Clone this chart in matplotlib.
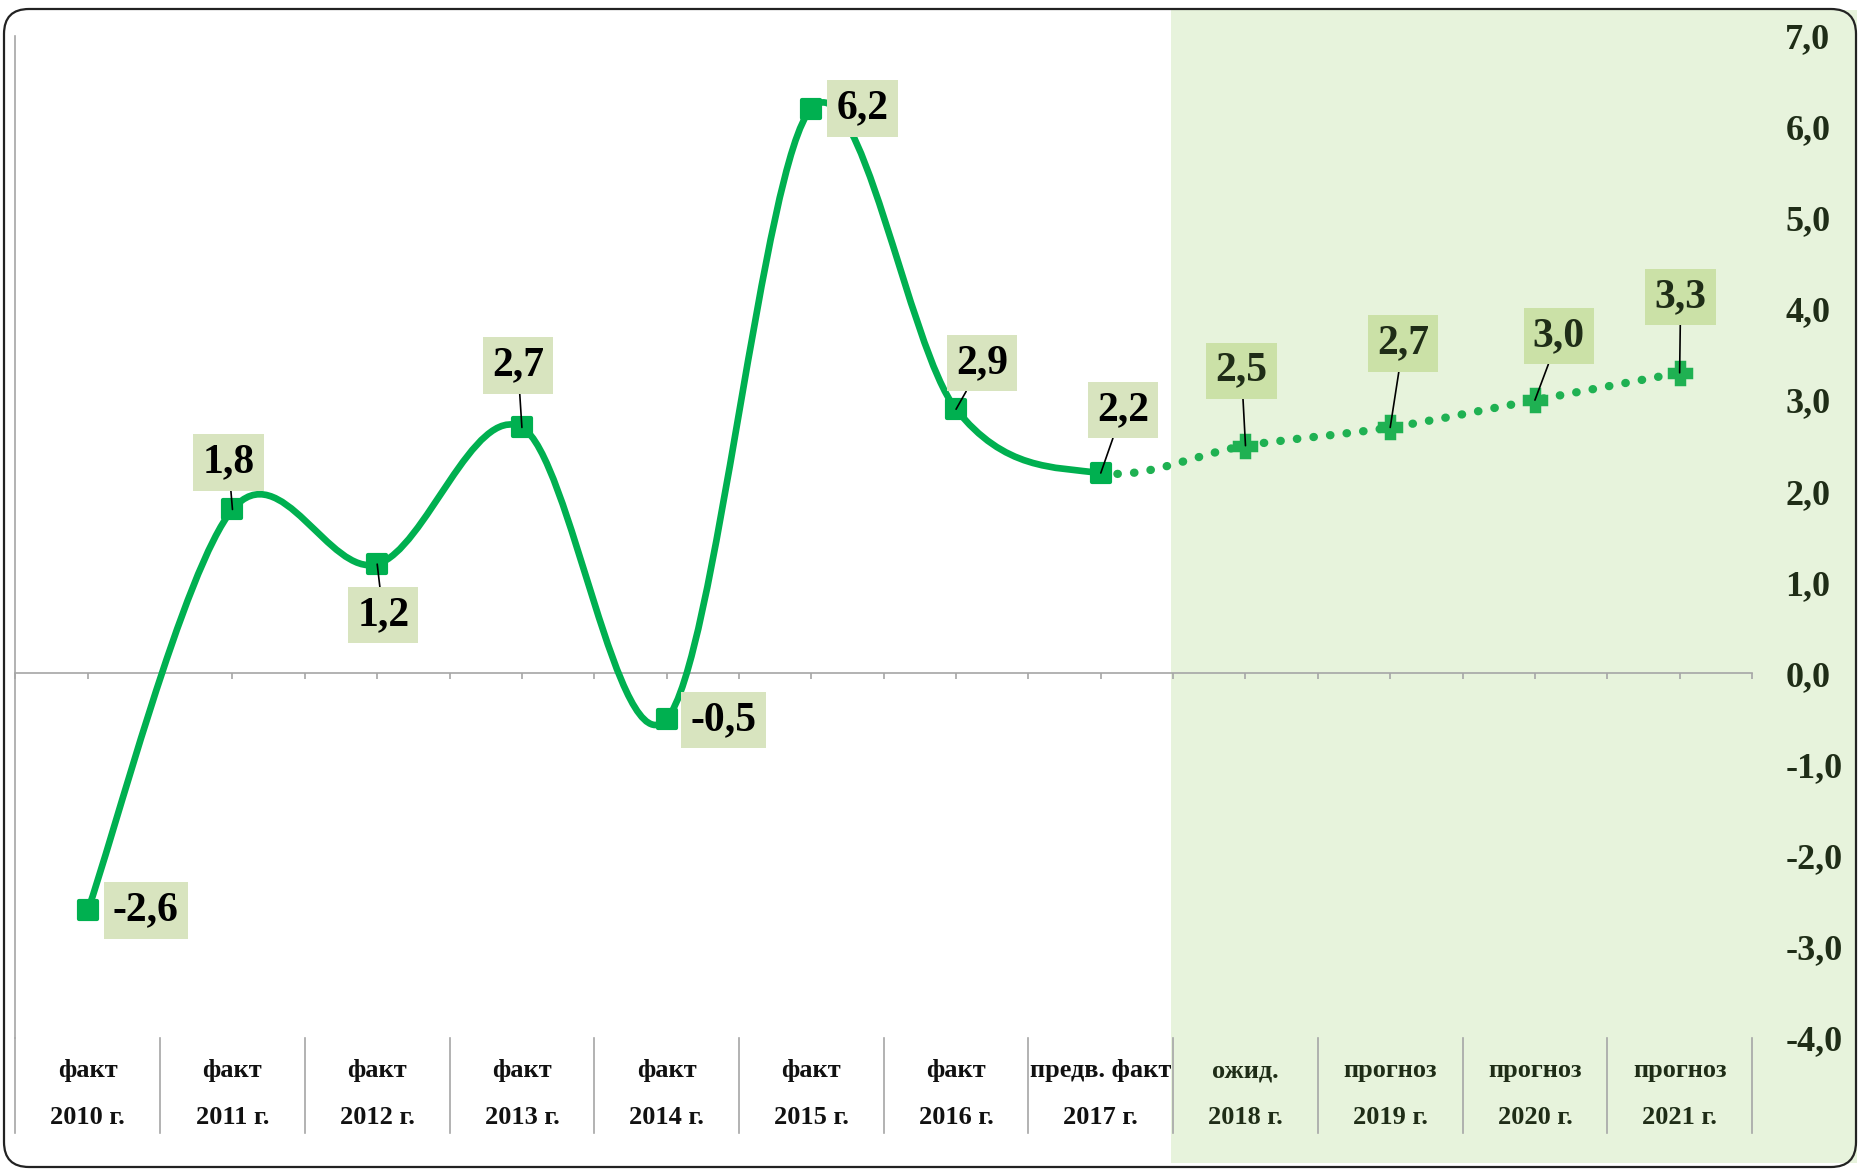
import matplotlib
matplotlib.use('Agg')
import matplotlib.pyplot as plt
from matplotlib.path import Path
from matplotlib.patches import PathPatch, FancyBboxPatch, Rectangle
from matplotlib.markers import MarkerStyle
import matplotlib.transforms as mtransforms
import numpy as np

# data
periods = ['факт', 'факт', 'факт', 'факт', 'факт', 'факт', 'факт',
           'предв. факт', 'ожид.', 'прогноз', 'прогноз', 'прогноз']
years = ['2010 г.', '2011 г.', '2012 г.', '2013 г.', '2014 г.', '2015 г.',
         '2016 г.', '2017 г.', '2018 г.', '2019 г.', '2020 г.', '2021 г.']
values = [-2.6, 1.8, 1.2, 2.7, -0.5, 6.2, 2.9, 2.2, 2.5, 2.7, 3.0, 3.3]
n_fact = 8  # 2010..2017 are fact, the rest forecast
y_ticks = [-4, -3, -2, -1, 0, 1, 2, 3, 4, 5, 6, 7]

# label offsets from the marker, in pixels (dx right, dy up)
label_offsets = [(58, 0), (-4, 47), (6, -51), (-4, 62), (57, -1), (51, 0),
                 (26, 46), (22, 63), (-4, 75), (13, 84), (24, 64), (1, 76)]

GREEN = '#00B050'
GREEN2 = '#1FB152'
SHADE = '#E7F3DC'
SERIF = ['Liberation Serif', 'DejaVu Serif']

plt.rcParams['font.family'] = SERIF
plt.rcParams['font.weight'] = 'bold'

W, H = 1860, 1169
fig = plt.figure(figsize=(W / 100, H / 100), dpi=100)
fig.patch.set_facecolor('white')

# axes placement (pixels)
x_left, x_right = 15.4, 1752
y_top, y_bot = 35.6, 1038
ax = fig.add_axes([x_left / W, (H - y_bot) / H, (x_right - x_left) / W, (y_bot - y_top) / H])
ax.set_facecolor('none')
ax.set_xlim(-0.5, 11.5)
ax.set_ylim(-4, 7)

# shaded forecast area + frame
inch = fig.dpi_scale_trans
shade = Rectangle((11.71, 0.06), 6.86, 11.53, transform=inch, facecolor=SHADE,
                  edgecolor='none', zorder=-1)
fig.patches.append(shade)
frame = FancyBboxPatch((0.04, 0.02), 18.52, 11.58, boxstyle='round,pad=0,rounding_size=0.25',
                       transform=inch, facecolor='none', edgecolor='#222222', lw=1.6, zorder=5)
fig.patches.append(frame)

# spines / ticks
for s in ['top', 'right']:
    ax.spines[s].set_visible(False)
ax.spines['bottom'].set_position(('data', 0))
ax.spines['bottom'].set_color('#A6A6A6')
ax.spines['bottom'].set_linewidth(1.2)
ax.spines['left'].set_color('#A6A6A6')
ax.spines['left'].set_linewidth(1.2)
ax.set_xticks(np.arange(-0.5, 11.6, 0.5))
ax.tick_params(axis='x', length=4, width=1.2, color='#A6A6A6', labelbottom=False, direction='out')

ax.yaxis.set_ticks_position('right')
ax.set_yticks(y_ticks)
ax.set_yticklabels([f'{v:.1f}'.replace('.', ',') for v in y_ticks])
ax.tick_params(axis='y', length=0, pad=24, labelsize=26, labelcolor='#1F2D17')
for lbl in ax.get_yticklabels():
    lbl.set_ha('left')
    lbl.set_fontweight('bold')

# category separators and labels under the plot
trans = mtransforms.blended_transform_factory(ax.transData, ax.transAxes)
sep_bottom = -(1133 - y_bot) / (y_bot - y_top)
for b in np.arange(-0.5, 11.6, 1.0):
    ax.plot([b, b], [0, sep_bottom], transform=trans, color='#A6A6A6', lw=1.2, clip_on=False)
for i in range(len(years)):
    c = '#111111' if i < n_fact else '#1F2D17'
    ax.text(i, -(1071 - y_bot) / (y_bot - y_top), periods[i], transform=trans, ha='center',
            va='center', fontsize=19, fontweight='bold', color=c)
    ax.text(i, -(1118 - y_bot) / (y_bot - y_top), years[i], transform=trans, ha='center',
            va='center', fontsize=19, fontweight='bold', color=c)


def smooth_segments(xs, ys):
    pts = np.column_stack([xs, ys]).astype(float)
    n = len(pts)
    segs = []
    for i in range(n - 1):
        p0 = pts[i - 1] if i > 0 else pts[i]
        p1, p2 = pts[i], pts[i + 1]
        p3 = pts[i + 2] if i + 2 < n else pts[i + 1]
        segs.append((p1, p1 + (p2 - p0) / 6, p2 - (p3 - p1) / 6, p2))
    return segs


def make_path(segs):
    verts = [segs[0][0]]
    codes = [Path.MOVETO]
    for s in segs:
        verts += [s[1], s[2], s[3]]
        codes += [Path.CURVE4] * 3
    return Path(verts, codes)


x = np.arange(len(values))
segs = smooth_segments(x, values)
solid = PathPatch(make_path(segs[:n_fact - 1]), facecolor='none', edgecolor=GREEN, lw=4.8,
                  capstyle='round', joinstyle='round', zorder=3)
ax.add_patch(solid)
dotted = PathPatch(make_path(segs[n_fact - 1:]), facecolor='none', edgecolor=GREEN2, lw=6.0,
                   linestyle=(0, (0.05, 1.95)), capstyle='round', zorder=3)
ax.add_patch(dotted)

sq = MarkerStyle('s', joinstyle='round')
ax.plot(x[:n_fact], values[:n_fact], linestyle='none', marker=sq, ms=13, mew=3,
        color=GREEN, mec=GREEN, zorder=4)
ax.plot(x[n_fact:], values[n_fact:], linestyle='none', marker='P', ms=16, mew=2.5,
        color=GREEN2, mec=GREEN2, zorder=4)

# data labels
for i, v in enumerate(values):
    dx, dy = label_offsets[i]
    in_shade = i >= n_fact
    fc = '#CBE1A7' if in_shade else '#D8E4BF'
    tc = '#1F2D17' if in_shade else '#000000'
    arrow = dict(arrowstyle='-', color='#000000', lw=1.2, shrinkA=0, shrinkB=0) if abs(dy) > 20 else None
    ax.annotate(f'{v:.1f}'.replace('.', ','), xy=(i, v), xytext=(dx, dy),
                textcoords='offset pixels', ha='center', va='center', fontsize=30,
                fontweight='bold', color=tc,
                bbox=dict(boxstyle='square,pad=0.22', fc=fc, ec='none'),
                arrowprops=arrow, zorder=5)

fig.savefig('out.png', dpi=100, facecolor='white')
